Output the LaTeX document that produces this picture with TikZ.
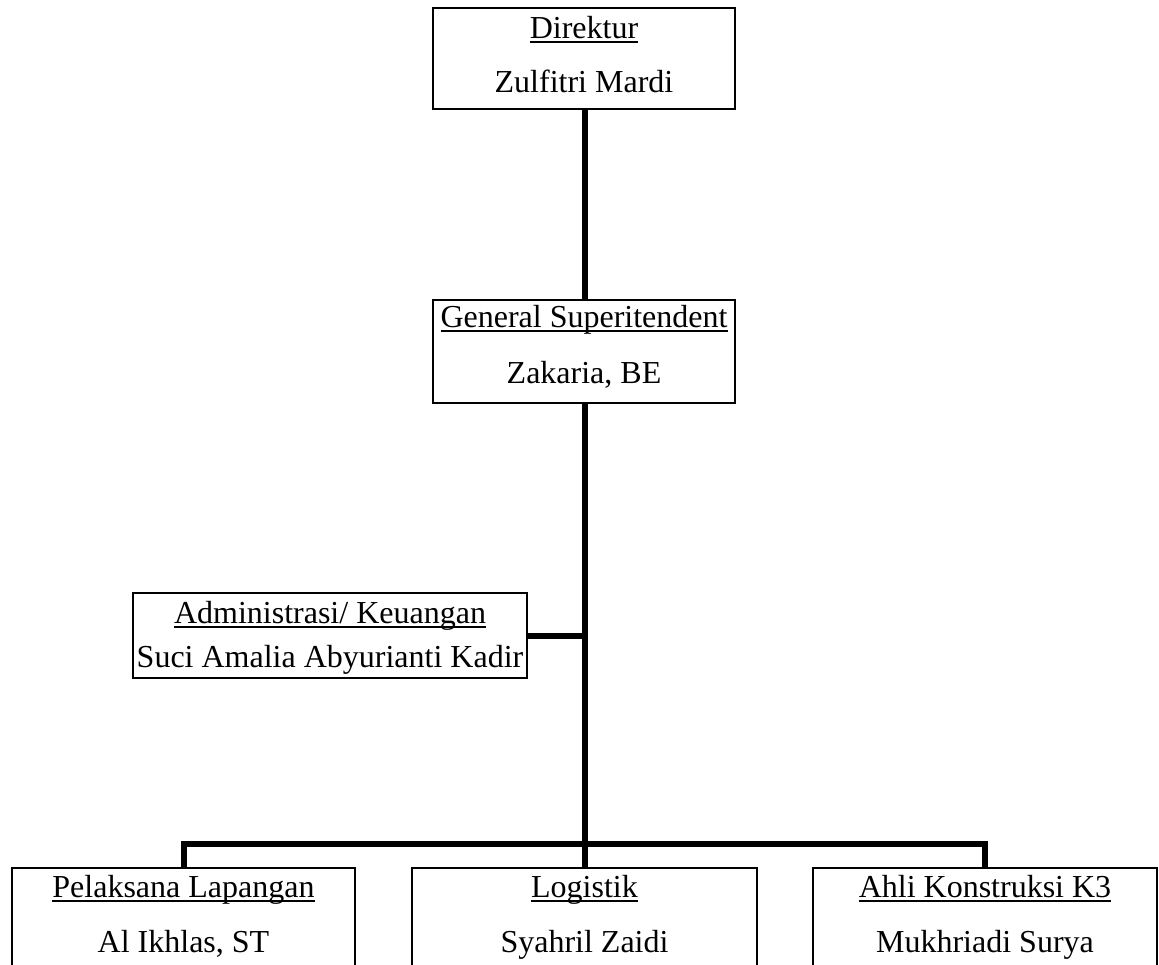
\documentclass[tikz,border=0pt]{standalone}
\usepackage{fontspec}
\setmainfont{Liberation Serif}
\newcommand\ulword[1]{\setbox0\hbox{#1}\rlap{\rule[-4.5pt]{\wd0}{1.4pt}}\box0}
\begin{document}
\begin{tikzpicture}[x=1pt,y=-1pt,
  box/.style={draw=black, line width=1.4pt, fill=white, inner sep=0pt},
  lbl/.style={anchor=base, inner sep=0pt, font=\fontsize{32}{38}\selectfont},
  conn/.style={line width=6pt, line join=miter}]
\useasboundingbox (0,0) rectangle (1159,964);
\clip (0,0) rectangle (1159,964);
% connectors first (boxes drawn over them)
\coordinate (bus) at (584.5,844);
% boxes
\node[box, minimum width=302pt, minimum height=101pt] (dir) at (584,58.5) {};
\node[box, minimum width=302pt, minimum height=103pt] (gen) at (584,351.5) {};
\node[box, minimum width=394pt, minimum height=85pt] (adm) at (330,635.5) {};
\node[box, minimum width=343pt, minimum height=120pt] (pl) at (183.5,928) {};
\node[box, minimum width=345pt, minimum height=120pt] (lg) at (584.5,928) {};
\node[box, minimum width=344pt, minimum height=120pt] (k3) at (985,928) {};
% connectors
\draw[conn] (dir.south -| bus) -- (gen.north -| bus);
\draw[conn] (gen.south -| bus) -- (bus);
\draw[conn] (adm.east) -- (adm.east -| bus);
\draw[conn] (pl.north) |- (bus) -| (k3.north);
\draw[conn] (bus) -- (lg.north -| bus);
% texts
\node[lbl] (t1) at (584,38) {\ulword{Direktur}};
\node[lbl] (n1) at (584,92) {Zulfitri Mardi};
\node[lbl] (t2) at (584,327) {\ulword{General Superitendent}};
\node[lbl] (n2) at (584,383) {Zakaria, BE};
\node[lbl] (t3) at (330,623) {\ulword{Administrasi/ Keuangan}};
\node[lbl] (n3) at (330,667) {Suci Amalia Abyurianti Kadir};
\node[lbl] (t4) at (183.5,897) {\ulword{Pelaksana Lapangan}};
\node[lbl] (n4) at (183.5,952) {Al Ikhlas, ST};
\node[lbl] (t5) at (584.5,897) {\ulword{Logistik}};
\node[lbl] (n5) at (584.5,952) {Syahril Zaidi};
\node[lbl] (t6) at (985,897) {\ulword{Ahli Konstruksi K3}};
\node[lbl] (n6) at (985,952) {Mukhriadi Surya};
\end{tikzpicture}
\end{document}
